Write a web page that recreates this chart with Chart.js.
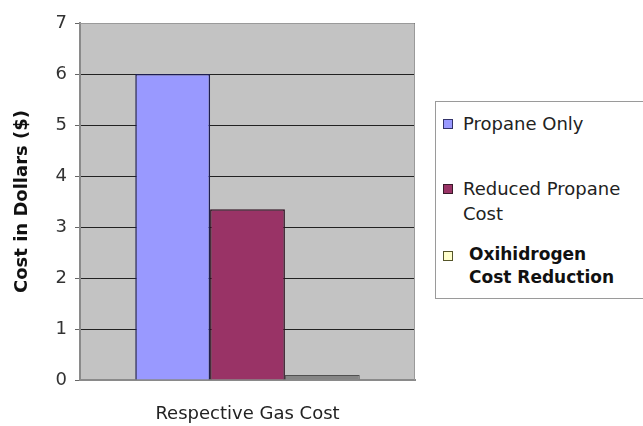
<!DOCTYPE html>
<html>
<head>
<meta charset="utf-8">
<script src="https://cdn.jsdelivr.net/npm/chart.js@4.4.0/dist/chart.umd.min.js"></script>
<style>
  body { margin: 0; background: #fff; width: 643px; height: 426px; overflow: hidden; position: relative; }
  #wrap { position: absolute; left: 0; top: 0; width: 430px; height: 426px; }
  #legend { position: absolute; left: 435px; top: 101px; width: 230px; height: 198px; border: 1px solid #9a9a9a; box-sizing: border-box; font-family: "DejaVu Sans", sans-serif; font-size: 18px; color: #222; }
  .item { position: absolute; left: 7px; line-height: 25px; }
  .box { position: absolute; left: 0; top: 8px; width: 8px; height: 8px; border: 1px solid #333; }
  .txt { position: absolute; left: 20px; white-space: nowrap; }
</style>
</head>
<body>
<div id="wrap"><canvas id="myChart" width="430" height="426"></canvas></div>
<div id="legend"></div>
<script>
// data
var categories = ['Respective Gas Cost'];
var seriesNames = [['Propane Only'], ['Reduced Propane', 'Cost'], ['Oxihidrogen', 'Cost Reduction']];
var propaneOnly = [6];
var reducedPropane = [3.35];
var oxihidrogen = [0.1];
var yTicks = [0, 1, 2, 3, 4, 5, 6, 7];

var barColors = ['#9999ff', '#993366', '#858585'];
var barBorders = ['#1e1e50', '#2e1020', '#505050'];
var legendFill = ['#9999ff', '#993366', '#ffffcc'];
var legendBorder = ['#33336a', '#3a1a2a', '#55552a'];

// legend (html, right side)
var legendTops = [9, 74, 141];
var legend = document.getElementById('legend');
seriesNames.forEach(function (name, i) {
  var it = document.createElement('div');
  it.className = 'item';
  it.style.top = legendTops[i] + 'px';
  var b = document.createElement('div');
  b.className = 'box';
  b.style.background = legendFill[i];
  b.style.borderColor = legendBorder[i];
  it.appendChild(b);
  var t = document.createElement('div');
  t.className = 'txt';
  if (i == 2) { t.style.left = '26px'; t.style.lineHeight = '23px'; t.style.fontWeight = '600'; t.style.fontSize = '17px'; t.style.color = '#111'; }
  t.innerHTML = name.join('<br>');
  it.appendChild(t);
  legend.appendChild(it);
});

var plotBg = {
  id: 'plotBg',
  beforeDraw: function (chart) {
    var a = chart.chartArea, ctx = chart.ctx;
    ctx.save();
    ctx.fillStyle = '#c3c3c3';
    ctx.fillRect(a.left, a.top, a.right - a.left, a.bottom - a.top);
    ctx.restore();
  },
  afterDraw: function (chart) {
    var a = chart.chartArea, ctx = chart.ctx;
    ctx.save();
    ctx.strokeStyle = '#9a9a9a';
    ctx.lineWidth = 1;
    ctx.beginPath();
    ctx.moveTo(a.left, a.top + 0.5);
    ctx.lineTo(a.right - 0.5, a.top + 0.5);
    ctx.lineTo(a.right - 0.5, a.bottom);
    ctx.stroke();
    ctx.restore();
  }
};

var ctx = document.getElementById('myChart').getContext('2d');
var myChart = new Chart(ctx, {
  type: 'bar',
  data: {
    labels: categories,
    datasets: [
      { label: seriesNames[0].join(' '), data: propaneOnly, backgroundColor: barColors[0], borderColor: barBorders[0], borderWidth: 1.5 },
      { label: seriesNames[1].join(' '), data: reducedPropane, backgroundColor: barColors[1], borderColor: barBorders[1], borderWidth: 1.5 },
      { label: seriesNames[2].join(' '), data: oxihidrogen, backgroundColor: barColors[2], borderColor: barBorders[2], borderWidth: 1 }
    ]
  },
  options: {
    responsive: false,
    animation: false,
    layout: { padding: { top: 23, right: 15, left: 0, bottom: 0 } },
    plugins: { legend: { display: false }, tooltip: { enabled: false } },
    datasets: { bar: { categoryPercentage: 0.67, barPercentage: 1 } },
    scales: {
      x: {
        grid: { display: false, drawTicks: false },
        border: { color: '#8a8a8a', width: 2 },
        ticks: { color: '#222', padding: 24, font: { family: 'DejaVu Sans', size: 18 } },
        afterFit: function (s) { s.height = 46; }
      },
      y: {
        min: 0, max: 7,
        afterBuildTicks: function (s) { s.ticks = yTicks.map(function (v) { return { value: v }; }); },
        grid: { color: '#222', lineWidth: 1, tickLength: 5, tickColor: '#666' },
        border: { color: '#8a8a8a', width: 2 },
        ticks: { color: '#333', padding: 8, font: { family: 'DejaVu Sans', size: 18 } },
        title: { display: true, text: 'Cost in Dollars ($)', color: '#111', padding: { top: 12, bottom: 0 }, font: { family: 'DejaVu Sans', size: 18, weight: 'bold' } },
        afterFit: function (s) { s.width = 80; }
      }
    }
  },
  plugins: [plotBg]
});
</script>
</body>
</html>
